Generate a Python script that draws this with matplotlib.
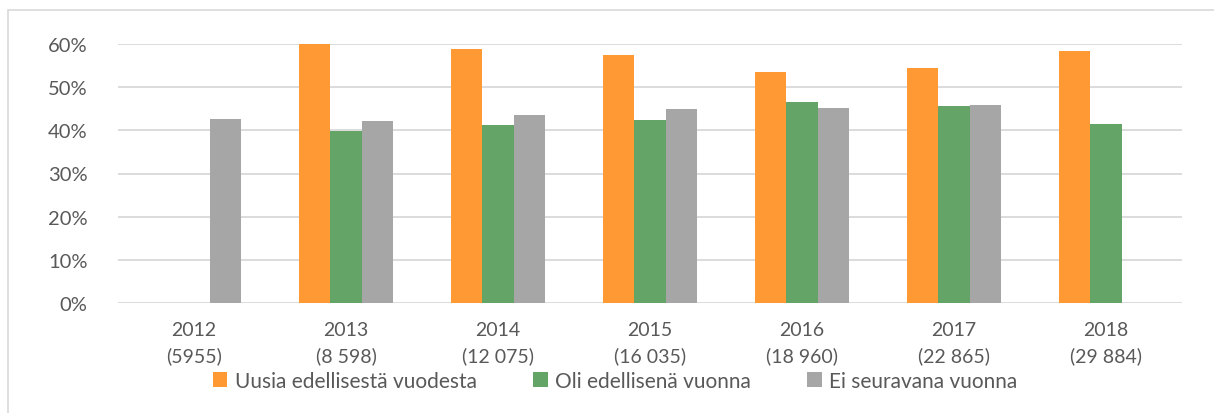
import matplotlib
matplotlib.use("Agg")
import matplotlib.pyplot as plt
from matplotlib.patches import Rectangle, Patch
import numpy as np

years = ["2012", "2013", "2014", "2015", "2016", "2017", "2018"]
counts = ["(5955)", "(8 598)", "(12 075)", "(16 035)", "(18 960)", "(22 865)", "(29 884)"]
series_names = ["Uusia edellisestä vuodesta", "Oli edellisenä vuonna", "Ei seuravana vuonna"]
uusia = [np.nan, 0.601, 0.588, 0.574, 0.535, 0.544, 0.583]
oli = [np.nan, 0.398, 0.412, 0.425, 0.465, 0.456, 0.414]
ei = [0.426, 0.421, 0.435, 0.450, 0.451, 0.458, np.nan]
colors = ["#FF9933", "#65A467", "#A6A6A6"]

plt.rcParams['font.family'] = ['Lato', 'DejaVu Sans']
text_color = "#595959"

W, H = 1214, 414
fig = plt.figure(figsize=(W / 100, H / 100), dpi=100)

# chart frame
fig.patches.append(Rectangle((8 / W, -0.1), 1.2, 1 - 11 / H + 0.1, transform=fig.transFigure,
                             fill=False, edgecolor="#D9D9D9", linewidth=1.2))

ax = fig.add_axes([118 / W, 1 - 304 / H, (1182 - 118) / W, (304 - 45) / H])
x = np.arange(len(years))
bw = 0.204
for i, (vals, c, name) in enumerate(zip([uusia, oli, ei], colors, series_names)):
    ax.bar(x + (i - 1) * bw, vals, width=bw, color=c, label=name, clip_on=False, zorder=3)

ax.set_xlim(-0.5, len(years) - 0.5)
ax.set_ylim(0, 0.6)
ax.set_yticks(np.arange(0, 0.61, 0.1))
ax.set_yticklabels([f"{int(round(v * 100))}%" for v in np.arange(0, 0.61, 0.1)],
                   fontsize=14.5, color=text_color)
ax.set_xticks(x)
ax.set_xticklabels([f"{y}\n{c}" for y, c in zip(years, counts)], fontsize=14,
                   color=text_color, linespacing=1.55)
ax.tick_params(axis='both', length=0)
ax.tick_params(axis='y', pad=22)
ax.tick_params(axis='x', pad=13)
ax.grid(axis='y', color="#D9D9D9", linewidth=1.3, zorder=0)
ax.set_axisbelow(True)
for s in ax.spines.values():
    s.set_visible(False)

handles = [Patch(facecolor=c, edgecolor='none') for c in colors]
leg = fig.legend(handles, series_names, loc='center', bbox_to_anchor=(615 / W, 1 - 382 / H),
                 ncol=3, frameon=False, fontsize=15, handlelength=0.7, handleheight=0.7,
                 handletextpad=0.35, columnspacing=2.7, labelcolor=text_color)

fig.savefig("out.png", dpi=100)
